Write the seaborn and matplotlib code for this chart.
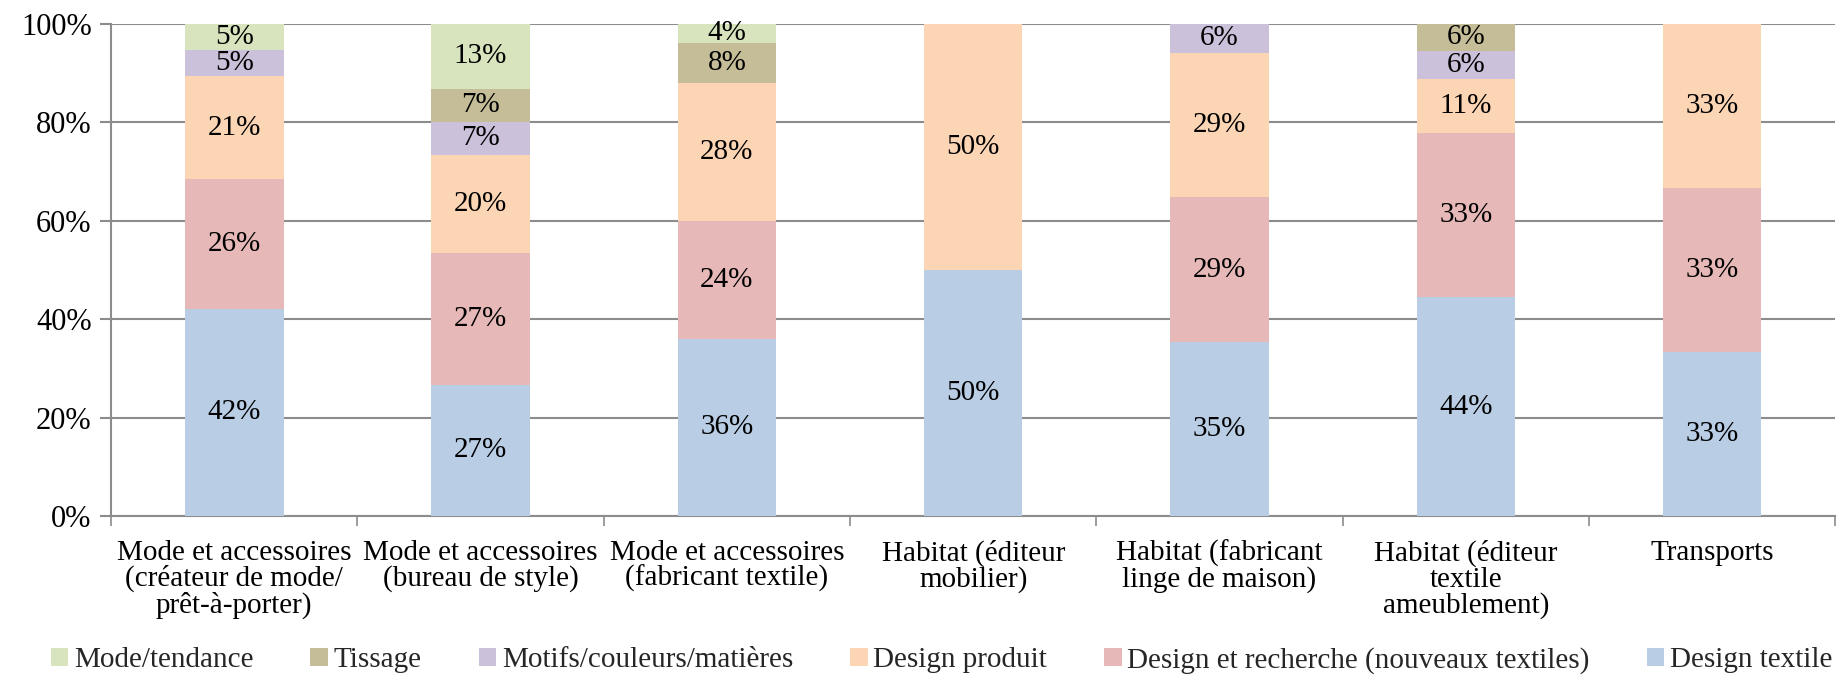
import numpy as np
import pandas as pd
import seaborn as sns
import matplotlib.pyplot as plt
from matplotlib.ticker import FuncFormatter

# Categories (x axis)
categories = [
    "Mode et accessoires\n(créateur de mode/\nprêt-à-porter)",
    "Mode et accessoires\n(bureau de style)",
    "Mode et accessoires\n(fabricant textile)",
    "Habitat (éditeur\nmobilier)",
    "Habitat (fabricant\nlinge de maison)",
    "Habitat (éditeur\ntextile\nameublement)",
    "Transports",
]

# Series values in % (bottom to top of the stack)
design_textile = [42.1, 26.7, 36.0, 50.0, 35.3, 44.4, 33.3]
design_recherche = [26.3, 26.7, 24.0, 0.0, 29.4, 33.3, 33.3]
design_produit = [21.0, 20.0, 28.0, 50.0, 29.4, 11.1, 33.4]
motifs = [5.3, 6.7, 0.0, 0.0, 5.9, 5.6, 0.0]
tissage = [0.0, 6.6, 8.0, 0.0, 0.0, 5.6, 0.0]
mode_tendance = [5.3, 13.3, 4.0, 0.0, 0.0, 0.0, 0.0]

series_names = ["Design textile", "Design et recherche (nouveaux textiles)",
                "Design produit", "Motifs/couleurs/matières", "Tissage", "Mode/tendance"]
series_values = [design_textile, design_recherche, design_produit, motifs, tissage, mode_tendance]
colors = ["#B9CDE5", "#E6B9B8", "#FCD5B5", "#CCC1DA", "#C4BD97", "#D7E4BD"]

df = pd.DataFrame(dict(zip(series_names, series_values)), index=categories)
cum = df.cumsum(axis=1)

sns.set_theme(style="white")
plt.rcParams['font.family'] = ['Liberation Serif', 'DejaVu Serif']

fig = plt.figure(figsize=(18.39, 6.75), dpi=100)
ax = fig.add_axes([0.0604, 0.2356, 0.9376, 0.7294])

# Draw cumulative bars from the top series down so each layer covers the next
for name, col in reversed(list(zip(series_names, colors))):
    plot_df = pd.DataFrame({"cat": categories, "val": cum[name].values})
    sns.barplot(data=plot_df, x="cat", y="val", color=col, width=0.4,
                saturation=1, label=name, ax=ax, zorder=3, linewidth=0)

# Segment labels
for i, cat in enumerate(categories):
    bottom = 0
    for name in series_names:
        v = df.loc[cat, name]
        if v > 0:
            ax.text(i, bottom + v / 2, f"{v:.0f}%", ha="center", va="center",
                    fontsize=21, color="black", zorder=5)
        bottom += v

ax.set_ylim(0, 100)
ax.set_xlim(-0.5, len(categories) - 0.5)
ax.set_yticks(np.arange(0, 101, 20))
ax.yaxis.set_major_formatter(FuncFormatter(lambda y, _: f"{y:.0f}%"))
ax.yaxis.grid(True, color="#8C8C8C", linewidth=1.5, zorder=0)
ax.set_axisbelow(True)
ax.set_xlabel("")
ax.set_ylabel("")

# Category boundary ticks on the x axis
ax.set_xticks(np.arange(len(categories)))
ax.set_xticklabels(categories, fontsize=21, linespacing=0.98, color="black")
ax.set_xticks(np.arange(-0.5, len(categories), 1), minor=True)
ax.tick_params(axis="x", which="major", length=0, pad=17)
ax.tick_params(axis="x", which="minor", length=7, width=1.2, color="#8C8C8C", bottom=True)
ax.tick_params(axis="y", length=8, width=1.5, color="#8C8C8C", left=True, labelsize=22,
               labelcolor="black", pad=6)

for s in ["top", "right"]:
    ax.spines[s].set_visible(False)
for s in ["left", "bottom"]:
    ax.spines[s].set_color("#8C8C8C")
    ax.spines[s].set_linewidth(1.5)

# Legend at the bottom, order as in the reference
handles, labels = ax.get_legend_handles_labels()
if ax.legend_:
    ax.legend_.remove()
fig.legend(handles, labels, loc="center", bbox_to_anchor=(0.512, 0.022), ncol=6,
           frameon=False, fontsize=21, handlelength=0.6, handleheight=0.6,
           handletextpad=0.2, columnspacing=1.95)

fig.savefig("out.png", dpi=100)
